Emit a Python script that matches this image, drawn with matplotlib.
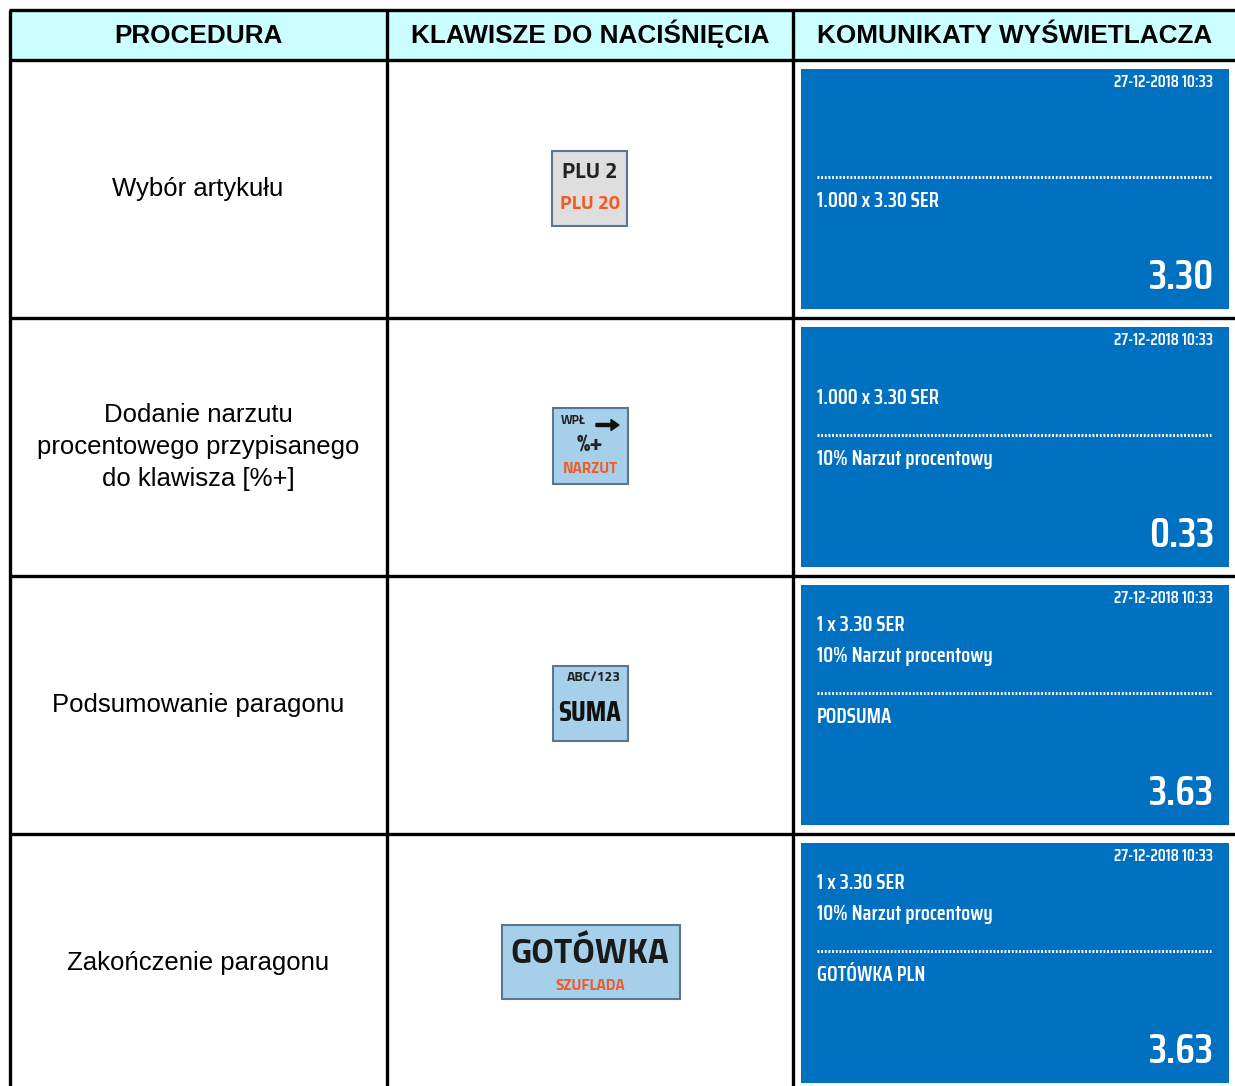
import matplotlib.pyplot as plt
from matplotlib import font_manager as fm
from matplotlib.patches import Rectangle, FancyArrow

# table content
headers = ['PROCEDURA', 'KLAWISZE DO NACIŚNIĘCIA', 'KOMUNIKATY WYŚWIETLACZA']
procedures = ['Wybór artykułu',
              'Dodanie narzutu\nprocentowego przypisanego\ndo klawisza [%+]',
              'Podsumowanie paragonu',
              'Zakończenie paragonu']
key_top = ['PLU 2', '%+', 'SUMA', 'GOTÓWKA']
key_sub = ['PLU 20', 'NARZUT', '', 'SZUFLADA']
key_small = ['', 'WPŁ', 'ABC/123', '']
disp_date = '27-12-2018 10:33'
disp_above = [[], ['1.000 x 3.30 SER'], ['1 x 3.30 SER', '10% Narzut procentowy'],
              ['1 x 3.30 SER', '10% Narzut procentowy']]
disp_below = ['1.000 x 3.30 SER', '10% Narzut procentowy', 'PODSUMA', 'GOTÓWKA PLN']
disp_value = ['3.30', '0.33', '3.63', '3.63']

installed = {f.name for f in fm.fontManager.ttflist}
def pick(cands):
    for c in cands:
        if c in installed:
            return [c, 'DejaVu Sans']
    return ['DejaVu Sans']

sans = pick(['Liberation Sans', 'Arimo'])
keyfont = pick(['Titillium Web', 'Open Sans Condensed'])
lcd = pick(['Saira Condensed', 'Saira Semi Condensed', 'Barlow Condensed', 'Roboto Condensed',
            'Fira Sans Condensed', 'IBM Plex Sans Condensed', 'Titillium Web'])

W, H = 1235, 1086
fig = plt.figure(figsize=(W / 100, H / 100), dpi=100)
ax = fig.add_axes([0, 0, 1, 1])
ax.set_xlim(0, W)
ax.set_ylim(H, 0)
ax.axis('off')

blue = '#0070C0'
orange = '#F15A24'

col_x = [10, 387, 793, 1240]
row_y = [10, 60, 318, 576, 834, 1095]

# header fill
ax.add_patch(Rectangle((col_x[0], row_y[0]), col_x[3] - col_x[0], row_y[1] - row_y[0],
                       facecolor='#CCFFFF', edgecolor='none'))
head_x = [198, 590, 1015]
for i, h in enumerate(headers):
    ax.text(head_x[i], 43, h, ha='center', va='baseline', fontsize=18.8, fontweight='bold',
            family=sans, color='black')

# grid lines
for x in col_x[:3]:
    ax.plot([x, x], [row_y[0], H], color='black', lw=2.4, solid_capstyle='butt')
for y in row_y[:5]:
    ax.plot([col_x[0] - 1, W], [y, y], color='black', lw=2.4, solid_capstyle='butt')

proc_y = [189, 447, 705, 963]
for r in range(4):
    top = row_y[r + 1]
    # procedure text
    ax.text(198, proc_y[r], procedures[r], ha='center', va='center', fontsize=18.5,
            family=sans, linespacing=1.42, color='black')

    # key image
    if r == 0:
        ax.add_patch(Rectangle((552, 151), 75, 75, facecolor='#DEDEDE', edgecolor='#5B7590', lw=1.5))
        ax.text(590, 173, key_top[r], ha='center', va='center', fontsize=16, fontweight='bold',
                family=keyfont, color='#222222')
        ax.text(590, 204, key_sub[r], ha='center', va='center', fontsize=14, fontweight='bold',
                family=keyfont, color=orange)
    elif r == 1:
        ax.add_patch(Rectangle((553, 408), 75, 76, facecolor='#A6CFEA', edgecolor='#5B7590', lw=1.5))
        ax.text(573, 421, key_small[r], ha='center', va='center', fontsize=9, fontweight='bold',
                family=keyfont, color='#222222')
        ax.add_patch(FancyArrow(596, 425, 15, 0, width=3, head_width=11, head_length=8,
                                length_includes_head=False, color='#111111'))
        ax.text(590, 446, key_top[r], ha='center', va='center', fontsize=17, fontweight='bold',
                family=keyfont, color='#222222')
        ax.text(590, 469, key_sub[r], ha='center', va='center', fontsize=11, fontweight='bold',
                family=keyfont, color=orange)
    elif r == 2:
        ax.add_patch(Rectangle((553, 666), 75, 75, facecolor='#A6CFEA', edgecolor='#5B7590', lw=1.5))
        ax.text(594, 678, key_small[r], ha='center', va='center', fontsize=10, fontweight='bold',
                family=keyfont, color='#222222')
        ax.text(590, 713, key_top[r], ha='center', va='center', fontsize=21, fontweight='bold',
                family=lcd, color='#111111')
    else:
        ax.add_patch(Rectangle((502, 925), 178, 74, facecolor='#A6CFEA', edgecolor='#5B7590', lw=1.5))
        ax.text(590, 954, key_top[r], ha='center', va='center', fontsize=25, fontweight='bold',
                family=keyfont, color='#1A1A1A')
        ax.text(590, 986, key_sub[r], ha='center', va='center', fontsize=11, fontweight='bold',
                family=keyfont, color=orange)

    # display panel
    pt = top + 9
    ax.add_patch(Rectangle((801, pt), 428, 240, facecolor=blue, edgecolor='none'))
    ax.text(1213, pt + 13, disp_date, ha='right', va='center', fontsize=12, fontweight=600,
            family=lcd, color='white')
    n = len(disp_above[r])
    for k, line in enumerate(disp_above[r]):
        ly = pt + 71 + (k - n + 1) * 31
        ax.text(817, ly, line, ha='left', va='center', fontsize=15, fontweight=600,
                family=lcd, color='white')
    ax.plot([817, 1211], [pt + 108, pt + 108], color='white', lw=2.2,
            linestyle=(0, (0.6, 0.6)), solid_capstyle='butt')
    ax.text(817, pt + 132, disp_below[r], ha='left', va='center', fontsize=15, fontweight=600,
            family=lcd, color='white')
    ax.text(1214, pt + 208, disp_value[r], ha='right', va='center', fontsize=30, fontweight=600,
            family=lcd, color='white')

fig.savefig('out.png', dpi=100)
